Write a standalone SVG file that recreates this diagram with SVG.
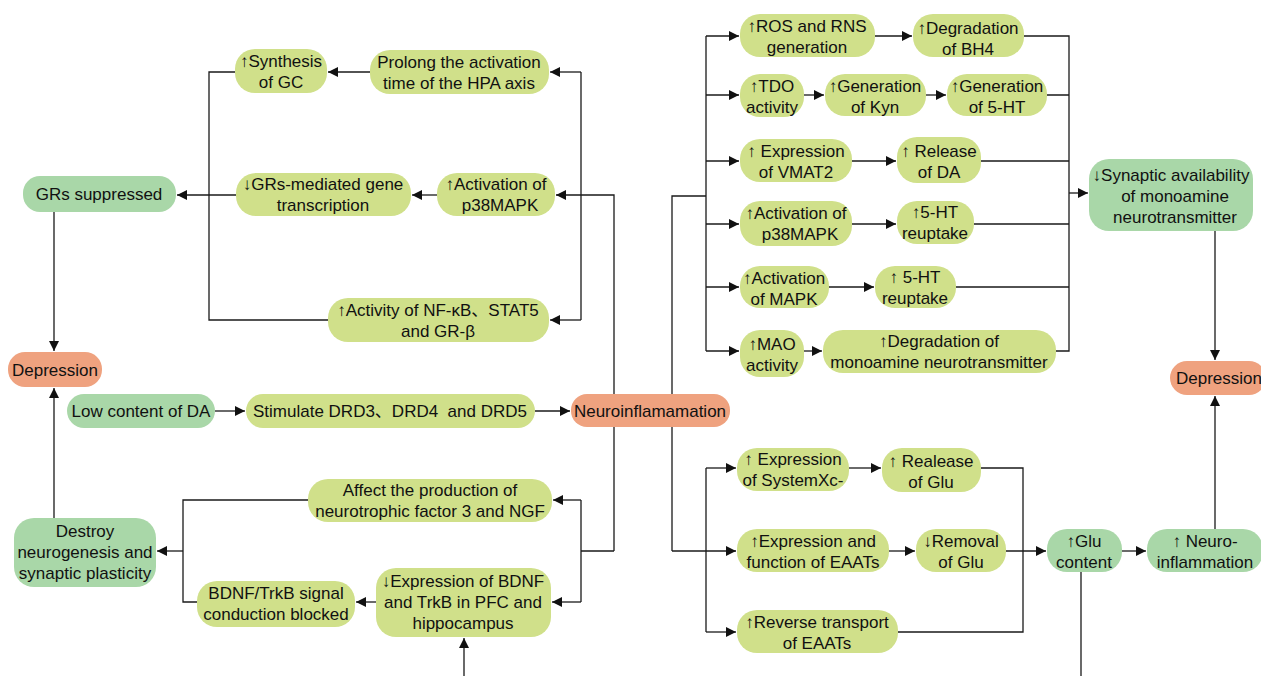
<svg xmlns="http://www.w3.org/2000/svg" width="1261" height="676" viewBox="0 0 1261 676">
<style>
.y{fill:#d0e08a}
.g{fill:#a9d7a8}
.s{fill:#efa27f}
text{font-family:"Liberation Sans","Noto Sans CJK SC",sans-serif;font-size:17px;fill:#111;text-anchor:middle}
.c path{fill:none;stroke:#1a1a1a;stroke-width:1.3}
.c path.a{marker-end:url(#ah)}
</style>
<defs>
<marker id="ah" markerUnits="userSpaceOnUse" markerWidth="11" markerHeight="11" refX="10" refY="5" orient="auto">
<path d="M0,0 L10,5 L0,10 z" fill="#111"/>
</marker>
</defs>
<rect width="1261" height="676" fill="#fff"/>
<g class="c" id="connectors">
<path class="a" d="M370,72 H328"/>
<path d="M235,72 H209 V320 H328"/>
<path class="a" d="M236,195 H177"/>
<path class="a" d="M437,195 H412"/>
<path d="M581,72 V320"/>
<path class="a" d="M581,72 H550"/>
<path class="a" d="M581,320 H550"/>
<path class="a" d="M614,551 V195 H556"/>
<path d="M614,551 H581 M581,500 V602"/>
<path class="a" d="M581,500 H553"/>
<path class="a" d="M581,602 H552"/>
<path class="a" d="M376,602 H356"/>
<path d="M197,602 H183 V500 H308"/>
<path class="a" d="M183,551 H157"/>
<path class="a" d="M54,518 V388"/>
<path class="a" d="M54,212 V351"/>
<path class="a" d="M215,411 H245"/>
<path class="a" d="M535,411 H570"/>
<path class="a" d="M464,676 V638"/>
<path d="M672,551 V196 H706 M706,36 V351"/>
<path class="a" d="M706,36 H739"/>
<path class="a" d="M706,95 H739"/>
<path class="a" d="M706,161 H739"/>
<path class="a" d="M706,224 H739"/>
<path class="a" d="M706,287 H739"/>
<path class="a" d="M706,351 H739"/>
<path class="a" d="M875,36 H912"/>
<path class="a" d="M804,95 H824"/>
<path class="a" d="M926,95 H946"/>
<path class="a" d="M852,161 H896"/>
<path class="a" d="M852,224 H896"/>
<path class="a" d="M829,287 H874"/>
<path class="a" d="M804,351 H822"/>
<path d="M1024,36 H1069 V351 H1056 M1047,95 H1069 M981,161 H1069 M974,224 H1069 M956,287 H1069"/>
<path class="a" d="M1069,193 H1088"/>
<path class="a" d="M1215,231 V360"/>
<path class="a" d="M672,551 H736"/>
<path d="M706,468 V632"/>
<path class="a" d="M706,468 H736"/>
<path class="a" d="M706,632 H736"/>
<path class="a" d="M849,468 H881"/>
<path class="a" d="M889,551 H915"/>
<path d="M981,468 H1023 V632 H898"/>
<path class="a" d="M1006,551 H1046"/>
<path class="a" d="M1122,551 H1146"/>
<path class="a" d="M1215,529 V396"/>
<path d="M1081,572 V676"/>
</g>
<g id="synth"><rect class="y" x="235" y="49" width="92" height="44" rx="20"/><text x="281" y="67">↑Synthesis</text><text x="281" y="88">of GC</text></g>
<g id="prolong"><rect class="y" x="370" y="50" width="179" height="44" rx="20"/><text x="459" y="68">Prolong the activation</text><text x="459" y="89">time of the HPA axis</text></g>
<g id="grs"><rect class="g" x="23" y="176" width="153" height="36" rx="17"/><text x="99" y="200">GRs suppressed</text></g>
<g id="grmed"><rect class="y" x="236" y="173" width="175" height="43" rx="20"/><text x="323" y="190">↓GRs-mediated gene</text><text x="323" y="211">transcription</text></g>
<g id="p38L"><rect class="y" x="437" y="173" width="118" height="43" rx="20"/><text x="496" y="190">↑Activation of</text><text x="500" y="211">p38MAPK</text></g>
<g id="nfkb"><rect class="y" x="328" y="298" width="221" height="44" rx="20"/><text x="438" y="316">↑Activity of NF-κB、STAT5</text><text x="438" y="337">and GR-β</text></g>
<g id="depL"><rect class="s" x="8" y="352" width="94" height="35" rx="17"/><text x="55" y="376">Depression</text></g>
<g id="lowDA"><rect class="g" x="67" y="394" width="148" height="34" rx="17"/><text x="141" y="417">Low content of DA</text></g>
<g id="stim"><rect class="y" x="246" y="394" width="289" height="34" rx="17"/><text x="390" y="417" xml:space="preserve">Stimulate DRD3、DRD4  and DRD5</text></g>
<g id="neuro"><rect class="s" x="571" y="394" width="159" height="33" rx="16"/><text x="650" y="417">Neuroinflamamation</text></g>
<g id="affect"><rect class="y" x="308" y="479" width="244" height="43" rx="20"/><text x="430" y="496">Affect the production of</text><text x="430" y="517">neurotrophic factor 3 and NGF</text></g>
<g id="destroy"><rect class="g" x="14" y="518" width="142" height="69" rx="20"/><text x="85" y="537">Destroy</text><text x="85" y="558">neurogenesis and</text><text x="85" y="579">synaptic plasticity</text></g>
<g id="bdnfsig"><rect class="y" x="197" y="581" width="158" height="46" rx="20"/><text x="276" y="599">BDNF/TrkB signal</text><text x="276" y="620">conduction blocked</text></g>
<g id="bdnfexp"><rect class="y" x="376" y="568" width="175" height="69" rx="20"/><text x="463" y="587">↓Expression of BDNF</text><text x="463" y="608">and TrkB in PFC and</text><text x="463" y="629">hippocampus</text></g>
<g id="ros"><rect class="y" x="740" y="14" width="135" height="43" rx="20"/><text x="807" y="32">↑ROS and RNS</text><text x="807" y="53">generation</text></g>
<g id="bh4"><rect class="y" x="913" y="14" width="111" height="43" rx="20"/><text x="968" y="34">↑Degradation</text><text x="968" y="55">of BH4</text></g>
<g id="tdo"><rect class="y" x="740" y="74" width="64" height="43" rx="20"/><text x="772" y="92">↑TDO</text><text x="772" y="113">activity</text></g>
<g id="kyn"><rect class="y" x="825" y="74" width="101" height="42" rx="20"/><text x="875" y="92">↑Generation</text><text x="875" y="113">of Kyn</text></g>
<g id="ht5gen"><rect class="y" x="947" y="74" width="100" height="42" rx="20"/><text x="997" y="92">↑Generation</text><text x="997" y="113">of 5-HT</text></g>
<g id="vmat"><rect class="y" x="740" y="139" width="112" height="43" rx="20"/><text x="796" y="157">↑ Expression</text><text x="796" y="178">of VMAT2</text></g>
<g id="relDA"><rect class="y" x="897" y="137" width="84" height="46" rx="20"/><text x="939" y="157">↑ Release</text><text x="939" y="178">of DA</text></g>
<g id="p38R"><rect class="y" x="740" y="201" width="112" height="45" rx="20"/><text x="796" y="219">↑Activation of</text><text x="800" y="240">p38MAPK</text></g>
<g id="reup1"><rect class="y" x="897" y="201" width="77" height="43" rx="20"/><text x="935" y="218">↑5-HT</text><text x="935" y="239">reuptake</text></g>
<g id="mapk"><rect class="y" x="740" y="266" width="89" height="42" rx="20"/><text x="784" y="284">↑Activation</text><text x="784" y="305">of MAPK</text></g>
<g id="reup2"><rect class="y" x="875" y="266" width="81" height="42" rx="20"/><text x="915" y="283">↑ 5-HT</text><text x="915" y="304">reuptake</text></g>
<g id="mao"><rect class="y" x="740" y="330" width="64" height="47" rx="20"/><text x="772" y="350">↑MAO</text><text x="772" y="371">activity</text></g>
<g id="degmono"><rect class="y" x="823" y="330" width="233" height="43" rx="20"/><text x="939" y="347">↑Degradation of</text><text x="939" y="368">monoamine neurotransmitter</text></g>
<g id="synap"><rect class="g" x="1089" y="159" width="164" height="72" rx="20"/><text x="1171" y="181">↓Synaptic availability</text><text x="1175" y="202">of monoamine</text><text x="1175" y="223">neurotransmitter</text></g>
<g id="depR"><rect class="s" x="1170" y="361" width="96" height="34" rx="17"/><text x="1219" y="384">Depression</text></g>
<g id="sysxc"><rect class="y" x="737" y="448" width="112" height="43" rx="20"/><text x="793" y="465">↑ Expression</text><text x="793" y="486">of SystemXc-</text></g>
<g id="relGlu"><rect class="y" x="882" y="448" width="99" height="44" rx="20"/><text x="931" y="467">↑ Realease</text><text x="931" y="488">of Glu</text></g>
<g id="eaat"><rect class="y" x="737" y="529" width="152" height="43" rx="20"/><text x="813" y="547">↑Expression and</text><text x="813" y="568">function of EAATs</text></g>
<g id="removal"><rect class="y" x="916" y="529" width="90" height="43" rx="20"/><text x="961" y="547">↓Removal</text><text x="961" y="568">of Glu</text></g>
<g id="glu"><rect class="g" x="1047" y="529" width="75" height="43" rx="20"/><text x="1084" y="547">↑Glu</text><text x="1084" y="568">content</text></g>
<g id="neuroinf2"><rect class="g" x="1147" y="529" width="116" height="43" rx="20"/><text x="1205" y="547">↑ Neuro-</text><text x="1205" y="568">inflammation</text></g>
<g id="reverse"><rect class="y" x="737" y="610" width="161" height="43" rx="20"/><text x="817" y="628">↑Reverse transport</text><text x="817" y="649">of EAATs</text></g>
</svg>
